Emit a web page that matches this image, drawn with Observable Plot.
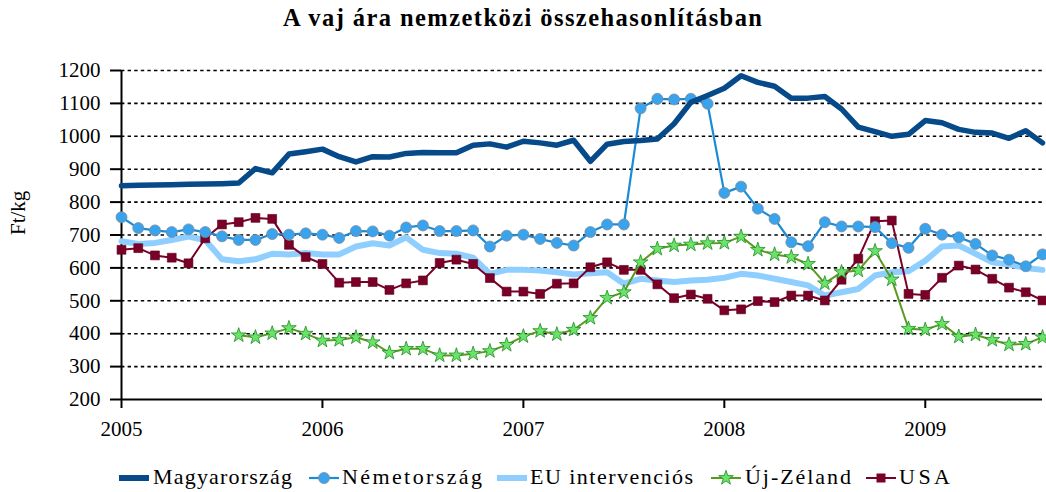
<!DOCTYPE html>
<html>
<head>
<meta charset="utf-8">
<script src="https://cdn.jsdelivr.net/npm/d3@7"></script>
<script src="https://cdn.jsdelivr.net/npm/@observablehq/plot@0.6"></script>
<style>
  html, body { margin: 0; padding: 0; background: #fff; }
  #wrap { position: relative; width: 1046px; height: 492px; overflow: hidden; font-family: "Liberation Serif", serif; }
  svg { display: block; }
</style>
</head>
<body>
<div id="wrap"></div>
<script>
// ---- data (monthly, Jan 2005 .. Aug 2009) ----
const title = "A vaj ára nemzetközi összehasonlításban";
const yLabel = "Ft/kg";
const seriesNames = ["Magyarország", "Németország", "EU intervenciós", "Új-Zéland", "USA"];
const yTicks = [200, 300, 400, 500, 600, 700, 800, 900, 1000, 1100, 1200];
const xTickPos = [0, 12, 24, 36, 48];
const xTickLabels = ["2005", "2006", "2007", "2008", "2009"];

const hungary = [850, 851, 852, 853, 854, 855, 856, 858, 902, 889,
  946, 953, 961, 938, 922, 938, 937, 948, 951, 950,
  950, 973, 977, 967, 985, 980, 973, 988, 924, 976,
  984, 987, 992, 1038, 1103, 1124, 1146, 1184, 1164, 1152,
  1116, 1116, 1121, 1083, 1028, 1014, 1000, 1006, 1048, 1041,
  1021, 1012, 1010, 994, 1017, 980];
const germany = [754, 721, 714, 709, 717, 709, 696, 685, 685, 703,
  701, 705, 701, 691, 712, 711, 698, 723, 729, 712,
  712, 714, 665, 698, 701, 688, 676, 668, 709, 732,
  732, 1085, 1114, 1112, 1114, 1099, 828, 847, 780, 749,
  678, 666, 739, 726, 726, 724, 675, 661, 719, 701,
  693, 673, 638, 625, 605, 641];
const eu = [681, 673, 676, 685, 695, 685, 626, 620, 626, 643,
  641, 645, 641, 641, 665, 675, 668, 693, 655, 645,
  643, 631, 582, 594, 594, 592, 587, 580, 584, 587,
  552, 567, 562, 557, 562, 564, 570, 582, 577, 567,
  557, 547, 516, 526, 536, 577, 587, 590, 622, 665,
  668, 643, 617, 610, 600, 594];
const newZealand = [null, null, null, null, null, null, null, 395, 389, 401,
  417, 400, 379, 381, 389, 374, 342, 354, 354, 334,
  334, 339, 347, 366, 392, 408, 398, 412, 448, 509,
  526, 617, 658, 668, 671, 675, 676, 695, 655, 641,
  633, 612, 553, 587, 592, 651, 565, 415, 412, 430,
  391, 397, 381, 367, 369, 389];
const usa = [655, 660, 638, 631, 614, 690, 732, 739, 752, 749,
  670, 633, 612, 555, 557, 557, 533, 553, 562, 615,
  625, 612, 569, 528, 528, 521, 552, 553, 602, 617,
  594, 594, 550, 508, 519, 506, 471, 474, 499, 496,
  516, 516, 501, 564, 628, 742, 744, 521, 518, 570,
  607, 595, 567, 540, 526, 501];

const months = d3.range(hungary.length);
const rows = arr => months.map((m, i) => ({m, v: arr[i]})).filter(d => d.v != null);

const FONT = "Liberation Serif";
const C = {
  hu: "#064a8a",
  deLine: "#1b8bd6", deDot: "#3aa3ee",
  eu: "#8ecfff",
  nzLine: "#5a9a1e", nzFill: "#6be36b", nzStroke: "#1f8c1f",
  us: "#7b0028"
};

const wrap = document.getElementById("wrap");
const NS = "http://www.w3.org/2000/svg";

// ---- title (above) ----
const head = document.createElementNS(NS, "svg");
head.setAttribute("width", 1046); head.setAttribute("height", 40);
const t = document.createElementNS(NS, "text");
t.setAttribute("x", 522.5); t.setAttribute("y", 26);
t.setAttribute("text-anchor", "middle");
t.setAttribute("font-family", FONT);
t.setAttribute("font-weight", "bold");
t.setAttribute("font-size", "24.5");
t.setAttribute("textLength", "479");
t.setAttribute("lengthAdjust", "spacing");
t.textContent = title;
head.appendChild(t);
wrap.appendChild(head);

// ---- chart ----
const chart = Plot.plot({
  width: 1046,
  height: 400,
  marginLeft: 121,
  marginRight: 4,
  marginTop: 30,
  marginBottom: 41,
  style: {fontFamily: FONT, fontSize: "21px", color: "#000", background: "#fff", overflow: "visible"},
  x: {domain: [0, months.length - 1], axis: null},
  y: {domain: [200, 1200], axis: null},
  marks: [
    Plot.ruleY(yTicks.slice(1), {stroke: "#000", strokeWidth: 1.6, strokeDasharray: "3.4,3.2"}),
    Plot.ruleY([200], {stroke: "#000", strokeWidth: 2}),
    Plot.ruleX([0], {y1: 200, y2: 1200, stroke: "#000", strokeWidth: 2}),
    Plot.axisY({ticks: yTicks, tickFormat: d => String(d), tickSize: 11, tickPadding: 10, strokeWidth: 2, label: null, fontSize: 21, fontFamily: FONT}),
    Plot.axisX({ticks: xTickPos, tickFormat: d => xTickLabels[xTickPos.indexOf(d)], tickSize: 9, tickPadding: 13, strokeWidth: 2, label: null, fontSize: 21, fontFamily: FONT}),
    Plot.text([yLabel], {frameAnchor: "left", dx: -103, rotate: -90, text: d => d, fontSize: 21, fontFamily: FONT}),
    // EU intervention
    Plot.line(rows(eu), {x: "m", y: "v", stroke: C.eu, strokeWidth: 6}),
    // USA
    Plot.line(rows(usa), {x: "m", y: "v", stroke: C.us, strokeWidth: 2}),
    Plot.dot(rows(usa), {x: "m", y: "v", symbol: "square", r: 5, fill: C.us, stroke: "#55001a", strokeWidth: 0.6}),
    // New Zealand
    Plot.line(rows(newZealand), {x: "m", y: "v", stroke: C.nzLine, strokeWidth: 2}),
    Plot.dot(rows(newZealand), {x: "m", y: "v", symbol: "star", r: 4.6, fill: C.nzFill, stroke: C.nzStroke, strokeWidth: 0.8}),
    // Germany
    Plot.line(rows(germany), {x: "m", y: "v", stroke: C.deLine, strokeWidth: 2.2}),
    Plot.dot(rows(germany), {x: "m", y: "v", r: 5.5, fill: C.deDot, stroke: "#7d8b98", strokeWidth: 0.8}),
    // Hungary
    Plot.line(rows(hungary), {x: "m", y: "v", stroke: C.hu, strokeWidth: 5.5})
  ]
});
wrap.appendChild(chart);

// ---- legend (below) ----
const leg = document.createElementNS(NS, "svg");
leg.setAttribute("width", 1046); leg.setAttribute("height", 52);
const ly = 38;
const items = [
  {sw: 119, tx: 153, tw: 139, kind: "thick", color: C.hu},
  {sw: 309, tx: 342, tw: 140, kind: "dot", color: C.deLine},
  {sw: 497, tx: 530, tw: 163, kind: "wide", color: C.eu},
  {sw: 711, tx: 745, tw: 106, kind: "star", color: C.nzLine},
  {sw: 866, tx: 899, tw: 51, kind: "square", color: C.us}
];
function el(name, attrs) {
  const e = document.createElementNS(NS, name);
  for (const k in attrs) e.setAttribute(k, attrs[k]);
  leg.appendChild(e);
  return e;
}
items.forEach((it, i) => {
  const x0 = it.sw, x1 = it.sw + 30, xm = it.sw + 15;
  if (it.kind === "thick" || it.kind === "wide") {
    el("line", {x1: x0, x2: x1, y1: ly, y2: ly, stroke: it.color, "stroke-width": 6});
  } else if (it.kind === "dot") {
    el("line", {x1: x0, x2: x1, y1: ly, y2: ly, stroke: it.color, "stroke-width": 2.2});
    el("circle", {cx: xm, cy: ly, r: 5.5, fill: C.deDot, stroke: "#7d8b98", "stroke-width": 0.8});
  } else if (it.kind === "star") {
    el("line", {x1: x0, x2: x1, y1: ly, y2: ly, stroke: it.color, "stroke-width": 2});
    el("path", {d: d3.symbol(d3.symbolStar, Math.PI * 4.6 * 4.6)(), transform: `translate(${xm},${ly})`, fill: C.nzFill, stroke: C.nzStroke, "stroke-width": 0.8});
  } else if (it.kind === "square") {
    el("line", {x1: x0, x2: x1, y1: ly, y2: ly, stroke: it.color, "stroke-width": 2});
    el("rect", {x: xm - 4.5, y: ly - 4.5, width: 9, height: 9, fill: C.us});
  }
  const tx = el("text", {x: it.tx, y: ly + 6, "font-family": FONT, "font-size": 22, textLength: it.tw, lengthAdjust: "spacing"});
  tx.textContent = seriesNames[i];
});
wrap.appendChild(leg);
</script>
</body>
</html>
